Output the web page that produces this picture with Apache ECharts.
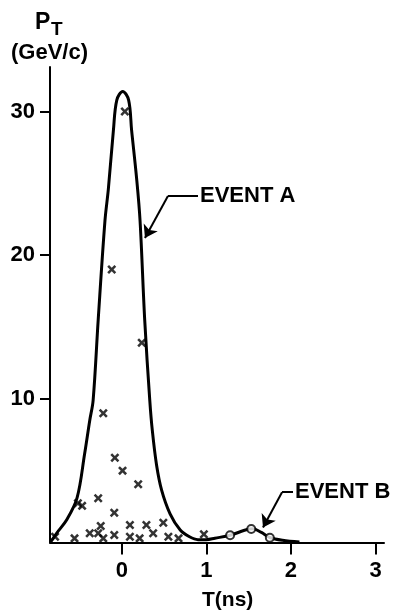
<!DOCTYPE html>
<html><head><meta charset="utf-8">
<script src="https://cdn.jsdelivr.net/npm/echarts@6/dist/echarts.min.js"></script>
<style>html,body{margin:0;padding:0;background:#fff}#c{width:395px;height:614px}</style>
</head><body><div id="c"></div>
<script>
// ---- data ----
const xTickValues = [0, 1, 2, 3];
const yTickValues = [10, 20, 30];
// smooth envelope curve (Event A peak + Event B hump)
const curveT = [-0.84, -0.77, -0.65, -0.53, -0.44, -0.38, -0.34, -0.28, -0.20, -0.16, -0.10, -0.06, 0.01, 0.08, 0.115, 0.175, 0.215, 0.27, 0.33, 0.36, 0.41, 0.47, 0.57, 0.69, 0.80, 0.90, 1.00, 1.10, 1.28, 1.45, 1.55, 1.65, 1.75, 1.90, 2.10];
const curveP = [0.05, 0.66, 1.6, 3.1, 6.2, 8.5, 9.9, 15.5, 22.4, 24.6, 28.7, 30.8, 31.4, 30.8, 28.7, 25.3, 22.4, 15.5, 9.9, 7.8, 5.4, 3.65, 2.0, 0.87, 0.4, 0.2, 0.2, 0.3, 0.5, 0.85, 0.95, 0.7, 0.35, 0.15, 0.03];
// Event A measurements (crosses)
const crossT = [0.035, -0.12, 0.235, -0.22, -0.083, 0.008, 0.193, -0.52, -0.47, -0.28, -0.09, -0.79, -0.56, -0.38, -0.25, -0.28, -0.22, -0.09, 0.095, 0.29, 0.49, 0.37, 0.095, 0.21, 0.55, 0.67, 0.97];
const crossP = [30.0, 19.0, 13.9, 9.0, 5.9, 5.0, 4.06, 2.73, 2.55, 3.08, 2.07, 0.4, 0.29, 0.64, 1.15, 0.64, 0.29, 0.52, 1.22, 1.22, 1.38, 0.64, 0.4, 0.29, 0.4, 0.29, 0.57];
// Event B measurements (circles)
const circleT = [1.28, 1.53, 1.75];
const circleP = [0.5, 0.94, 0.33];
const labelA = 'EVENT A';
const labelB = 'EVENT B';
// leader lines (data coordinates): [elbow, label end, arrow tip]
const leaderA = [[0.545, 24.12], [0.90, 24.12], [0.273, 21.2]];
const leaderB = [[1.894, 3.5], [2.024, 3.5], [1.669, 1.05]];

const FONT = 'Liberation Sans';
const chart = echarts.init(document.getElementById('c'), null, {renderer: 'canvas'});
const zip = (a, b) => a.map((v, i) => [v, b[i]]);
const crossPath = 'path://M0,2L2,0L5,3L8,0L10,2L7,5L10,8L8,10L5,7L2,10L0,8L3,5Z';

function leader(pts, text, pad) {
  return [
    [{coord: pts[0], symbol: 'none'},
     {coord: pts[1], symbol: 'none',
      label: {show: true, position: 'end', formatter: text, distance: 2, color: '#000',
              fontFamily: FONT, fontWeight: 'bold', fontSize: 22, padding: pad}}],
    [{coord: pts[0], symbol: 'none'},
     {coord: pts[2], symbol: 'arrow', symbolSize: 12}]
  ];
}

chart.setOption({
  animation: false,
  backgroundColor: '#fff',
  grid: {left: 50, right: 11, top: 67, bottom: 71.5, containLabel: false, outerBoundsMode: 'none'},
  xAxis: {
    type: 'value', min: -0.85, max: 3.1,
    axisLine: {show: true, onZero: false, lineStyle: {color: '#000', width: 2}},
    axisTick: {show: true, customValues: xTickValues, length: 12, inside: false, lineStyle: {color: '#000', width: 2}},
    axisLabel: {show: true, customValues: xTickValues, margin: 17, color: '#000', fontFamily: FONT, fontWeight: 'bold', fontSize: 22},
    splitLine: {show: false}
  },
  yAxis: {
    type: 'value', min: 0, max: 33.1,
    axisLine: {show: true, onZero: false, lineStyle: {color: '#000', width: 2}},
    axisTick: {show: true, customValues: yTickValues, length: 10, inside: false, lineStyle: {color: '#000', width: 2}},
    axisLabel: {show: true, customValues: yTickValues, margin: 15, color: '#000', fontFamily: FONT, fontWeight: 'bold', fontSize: 22},
    splitLine: {show: false}
  },
  graphic: [
    {type: 'text', left: 35, top: 11, style: {text: 'P', fill: '#000', font: 'bold 23px "Liberation Sans"'}},
    {type: 'text', left: 51, top: 20, style: {text: 'T', fill: '#000', font: 'bold 19px "Liberation Sans"'}},
    {type: 'text', left: 11, top: 42, style: {text: '(GeV/c)', fill: '#000', font: 'bold 22px "Liberation Sans"'}},
    {type: 'text', left: 202, top: 590, style: {text: 'T(ns)', fill: '#000', font: 'bold 21px "Liberation Sans"'}}
  ],
  series: [
    {
      type: 'line', data: zip(curveT, curveP), smooth: 0.35, showSymbol: false, z: 2,
      lineStyle: {color: '#000', width: 3},
      markLine: {
        silent: true, symbol: ['none', 'arrow'], symbolSize: 12,
        label: {show: false},
        lineStyle: {color: '#000', width: 2, type: 'solid'},
        emphasis: {disabled: true},
        data: leader(leaderA, labelA, [0, 0, 0, 0]).concat(leader(leaderB, labelB, [8, 0, 0, 0]))
      }
    },
    {
      type: 'scatter', data: zip(crossT, crossP), symbol: crossPath, symbolSize: 9, z: 3,
      itemStyle: {color: '#000'}
    },
    {
      type: 'scatter', data: zip(circleT, circleP), symbol: 'circle', symbolSize: 8, z: 4,
      itemStyle: {color: '#fff', borderColor: '#000', borderWidth: 2}
    }
  ]
});
</script>
</body></html>
